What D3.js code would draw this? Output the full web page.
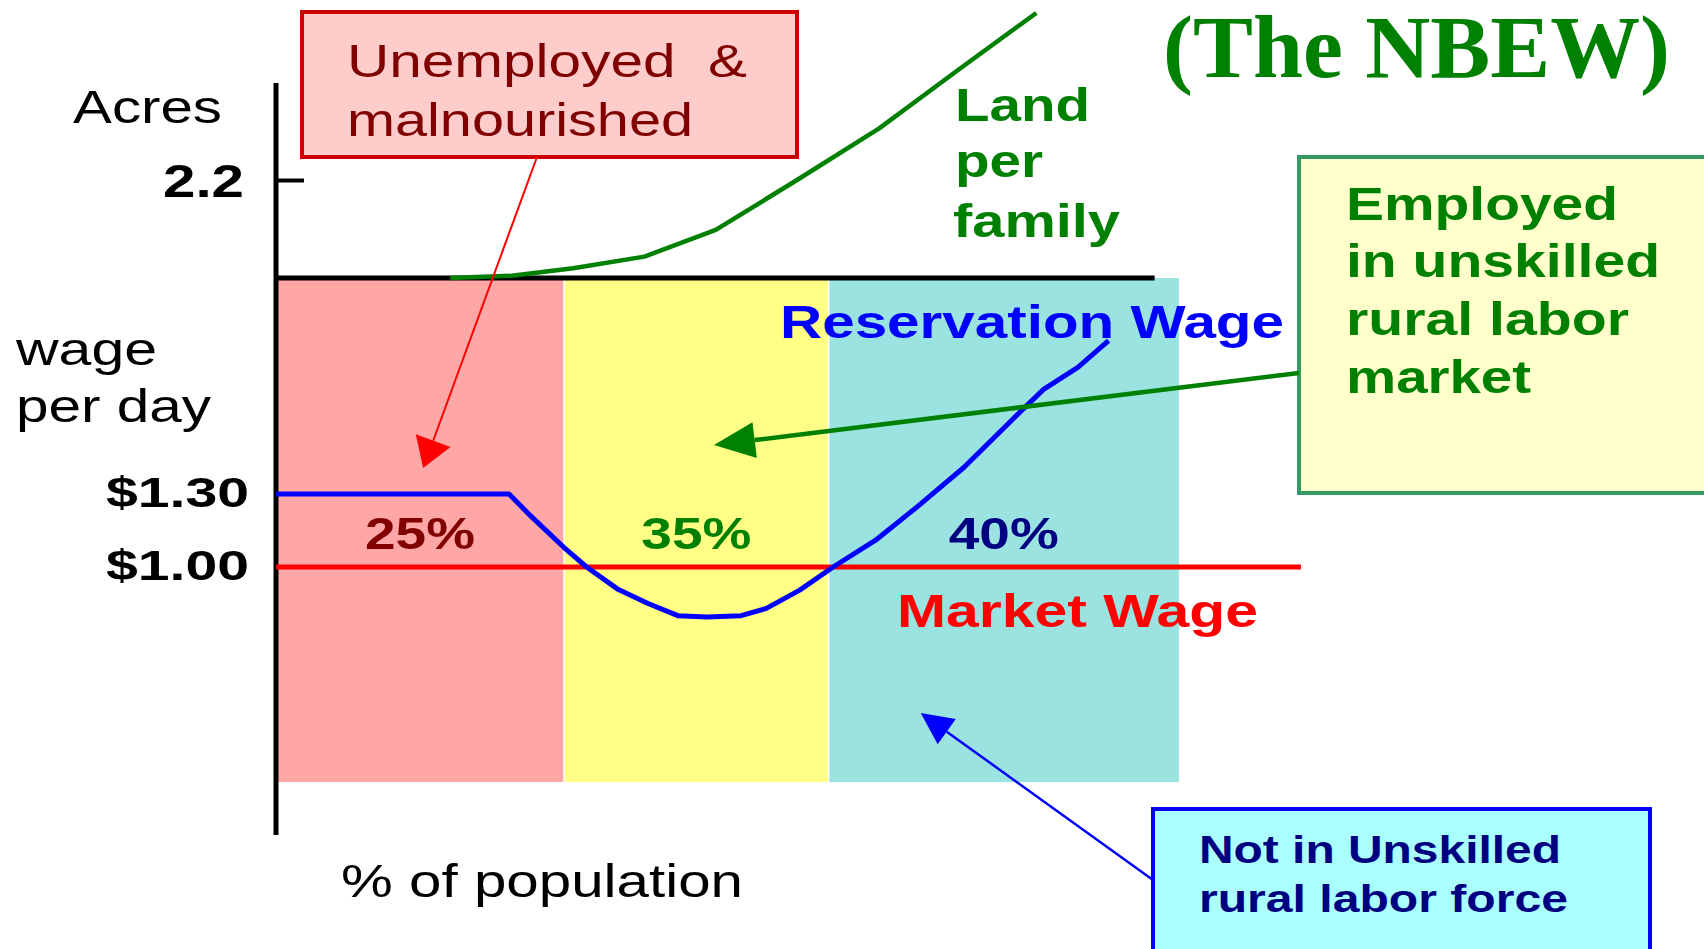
<!DOCTYPE html>
<html>
<head>
<meta charset="utf-8">
<script src="https://cdn.jsdelivr.net/npm/d3@7"></script>
<style>
  body { margin: 0; background: #fff; overflow: hidden; }
  text { font-family: "Liberation Sans", Arial, sans-serif; white-space: pre; }
</style>
</head>
<body>
<div id="chart-area"></div>
<script>
// Datos
const bandEdges = [0, 31.9, 61.2, 100];          // % of population (eje esquematico)
const bandLabels = ["25%", "35%", "40%"];

const reservationPct  = [0, 25.8, 28.2, 31.9, 34.4, 37.8, 41.2, 44.5, 47.7, 51.5, 54.3, 58.0, 61.7, 66.4, 71.1, 76.2, 82.2, 85.0, 88.8, 92.2];
const reservationWage = [1.30, 1.30, 1.21, 1.08, 1.00, 0.91, 0.85, 0.80, 0.795, 0.80, 0.83, 0.905, 1.00, 1.11, 1.25, 1.41, 1.63, 1.73, 1.82, 1.93];

const marketPct  = [0, 113.5];
const marketWage = [1.00, 1.00];

const landPct   = [19.3, 26.1, 32.9, 40.8, 48.7, 57.7, 66.8, 75.8, 84.2];
const landAcres = [0, 0.05, 0.22, 0.48, 1.08, 2.2, 3.36, 4.71, 5.95];

const wageTicks = [1.00, 1.30];
const acreTicks = [2.2];

// puntas de las flechas (pct, wage)
const arrowTipPct  = [16.3, 48.5, 71.4];
const arrowTipWage = [1.407, 1.501, 0.40];

const width = 1704;
const height = 949;

const svg = d3.select("#chart-area")
    .append("svg")
    .attr("width", width)
    .attr("height", height);

svg.append("rect").attr("width", width).attr("height", height).attr("fill", "#fff");

const x = d3.scaleLinear().domain([0, 100]).range([276, 1179]);
const yWage = d3.scaleLinear().domain([1.0, 1.3]).range([567, 494]);
const yAcres = d3.scaleLinear().domain([0, 2.2]).range([278, 180]);
const plotBottom = 782;

function label(g, str, px, py, size, weight, fill, w, family) {
    const t = g.append("text")
        .attr("x", px)
        .attr("y", py)
        .attr("font-size", size)
        .attr("font-weight", weight)
        .attr("fill", fill)
        .text(str);
    if (w) t.attr("textLength", w).attr("lengthAdjust", "spacingAndGlyphs");
    if (family) t.style("font-family", family);
    return t;
}

// bandas
const bandColors = ["#FFA6A6", "#FFFF85", "#9BE3E0"];
svg.selectAll("rect.band")
    .data(bandLabels)
    .enter()
    .append("rect")
    .attr("class", "band")
    .attr("x", (d, i) => x(bandEdges[i]))
    .attr("y", yAcres(0))
    .attr("width", (d, i) => x(bandEdges[i + 1]) - x(bandEdges[i]))
    .attr("height", plotBottom - yAcres(0))
    .attr("fill", (d, i) => bandColors[i]);

// separadores blancos finos
svg.selectAll("line.sep")
    .data(bandEdges.slice(1, 3))
    .enter()
    .append("line")
    .attr("x1", d => x(d)).attr("x2", d => x(d))
    .attr("y1", yAcres(0)).attr("y2", plotBottom)
    .attr("stroke", "#fff").attr("stroke-width", 1.5);

// etiquetas de las bandas
const bandTextColors = ["#800000", "#008000", "#000080"];
bandLabels.forEach((d, i) => {
    const cx = (x(bandEdges[i]) + x(bandEdges[i + 1])) / 2;
    label(svg, d, cx - 55, 549, 45, "bold", bandTextColors[i], 110);
});

// linea base (acres = 0)
svg.append("line")
    .attr("x1", x(0)).attr("x2", x(97.3))
    .attr("y1", yAcres(0)).attr("y2", yAcres(0))
    .attr("stroke", "#000").attr("stroke-width", 5);

// eje vertical
svg.append("line")
    .attr("x1", x(0)).attr("x2", x(0))
    .attr("y1", 83).attr("y2", 835)
    .attr("stroke", "#000").attr("stroke-width", 5);

// eje de acres
const acreAxis = svg.append("g")
    .attr("transform", `translate(${x(0)},0)`)
    .call(d3.axisLeft(yAcres).tickValues(acreTicks).tickSize(-28).tickPadding(32).tickFormat(d3.format(".1f")));
acreAxis.select(".domain").remove();
acreAxis.selectAll("line").attr("stroke", "#000").attr("stroke-width", 4);
acreAxis.selectAll("text")
    .attr("font-size", 46).attr("font-weight", "bold").attr("fill", "#000")
    .attr("font-family", null)
    .attr("dy", "0.35em")
    .attr("textLength", 81).attr("lengthAdjust", "spacingAndGlyphs");

// eje de salario
const wageAxis = svg.append("g")
    .attr("transform", `translate(${x(0)},0)`)
    .call(d3.axisLeft(yWage).tickValues(wageTicks).tickSize(0).tickPadding(27).tickFormat(d => "$" + d3.format(".2f")(d)));
wageAxis.select(".domain").remove();
wageAxis.selectAll("text")
    .attr("font-size", 43).attr("font-weight", "bold").attr("fill", "#000")
    .attr("font-family", null)
    .attr("dy", "0.3em")
    .attr("textLength", 143).attr("lengthAdjust", "spacingAndGlyphs");

// linea de salario de mercado
svg.append("path")
    .datum(marketPct.map((p, i) => [p, marketWage[i]]))
    .attr("d", d3.line().x(d => x(d[0])).y(d => yWage(d[1])))
    .attr("fill", "none").attr("stroke", "#FF0000").attr("stroke-width", 5);

// salario de reserva
svg.append("path")
    .datum(reservationPct.map((p, i) => [p, reservationWage[i]]))
    .attr("d", d3.line().x(d => x(d[0])).y(d => yWage(d[1])))
    .attr("fill", "none").attr("stroke", "#0000FF").attr("stroke-width", 5)
    .attr("stroke-linejoin", "round");

// tierra por familia
svg.append("path")
    .datum(landPct.map((p, i) => [p, landAcres[i]]))
    .attr("d", d3.line().x(d => x(d[0])).y(d => yAcres(d[1])))
    .attr("fill", "none").attr("stroke", "#008000").attr("stroke-width", 4.5)
    .attr("stroke-linejoin", "round");

// textos de ejes
label(svg, "Acres", 73, 123, 47, "normal", "#000", 149);
label(svg, "wage", 16, 365, 47, "normal", "#000", 141);
label(svg, "per day", 16, 422, 47, "normal", "#000", 195);
label(svg, "% of population", 341, 897, 47, "normal", "#000", 402);

// etiquetas de las series
label(svg, "Reservation Wage", 780, 338, 46, "bold", "#0000FF", 504);
label(svg, "Market Wage", 897, 627, 46, "bold", "#FF0000", 361);
label(svg, "Land", 955, 121, 46, "bold", "#008000", 135);
label(svg, "per", 955, 177, 46, "bold", "#008000", 88);
label(svg, "family", 953, 237, 46, "bold", "#008000", 167);

// titulo
label(svg, "(The NBEW)", 1163, 77, 88, "bold", "#008000", 507, "'Liberation Serif', 'Times New Roman', serif");

// cajas de anotacion
function box(bx, by, bw, bh, fill, stroke) {
    svg.append("rect")
        .attr("x", bx).attr("y", by).attr("width", bw).attr("height", bh)
        .attr("fill", fill).attr("stroke", stroke).attr("stroke-width", 4);
}

function arrow(x1, y1, i, color, sw, headLen, headW) {
    const x2 = x(arrowTipPct[i]);
    const y2 = yWage(arrowTipWage[i]);
    const ang = Math.atan2(y2 - y1, x2 - x1);
    const bxp = x2 - headLen * Math.cos(ang);
    const byp = y2 - headLen * Math.sin(ang);
    svg.append("line")
        .attr("x1", x1).attr("y1", y1).attr("x2", bxp).attr("y2", byp)
        .attr("stroke", color).attr("stroke-width", sw);
    const px = -Math.sin(ang) * headW / 2;
    const py = Math.cos(ang) * headW / 2;
    svg.append("polygon")
        .attr("points", [[x2, y2], [bxp + px, byp + py], [bxp - px, byp - py]].map(p => p.join(",")).join(" "))
        .attr("fill", color);
}

box(302, 12, 495, 145, "#FFCCCC", "#CC0000");
label(svg, "Unemployed  &", 347, 77, 47, "normal", "#800000", 400);
label(svg, "malnourished", 347, 136, 47, "normal", "#800000", 346);
arrow(537, 157, 0, "#FF0000", 2, 29, 37);

box(1299, 157, 430, 336, "#FFFFCC", "#339966");
label(svg, "Employed", 1346, 220, 46, "bold", "#008000", 272);
label(svg, "in unskilled", 1346, 277, 46, "bold", "#008000", 314);
label(svg, "rural labor", 1346, 335, 46, "bold", "#008000", 283);
label(svg, "market", 1346, 393, 46, "bold", "#008000", 185);
arrow(1299, 373, 1, "#008000", 4.5, 41, 36);

box(1153, 809, 497, 170, "#AAFFFF", "#0000FF");
label(svg, "Not in Unskilled", 1199, 863, 38, "bold", "#000080", 362);
label(svg, "rural labor force", 1199, 912, 38, "bold", "#000080", 369);
arrow(1153, 880, 2, "#0000FF", 2.5, 32, 31);
</script>
</body>
</html>
